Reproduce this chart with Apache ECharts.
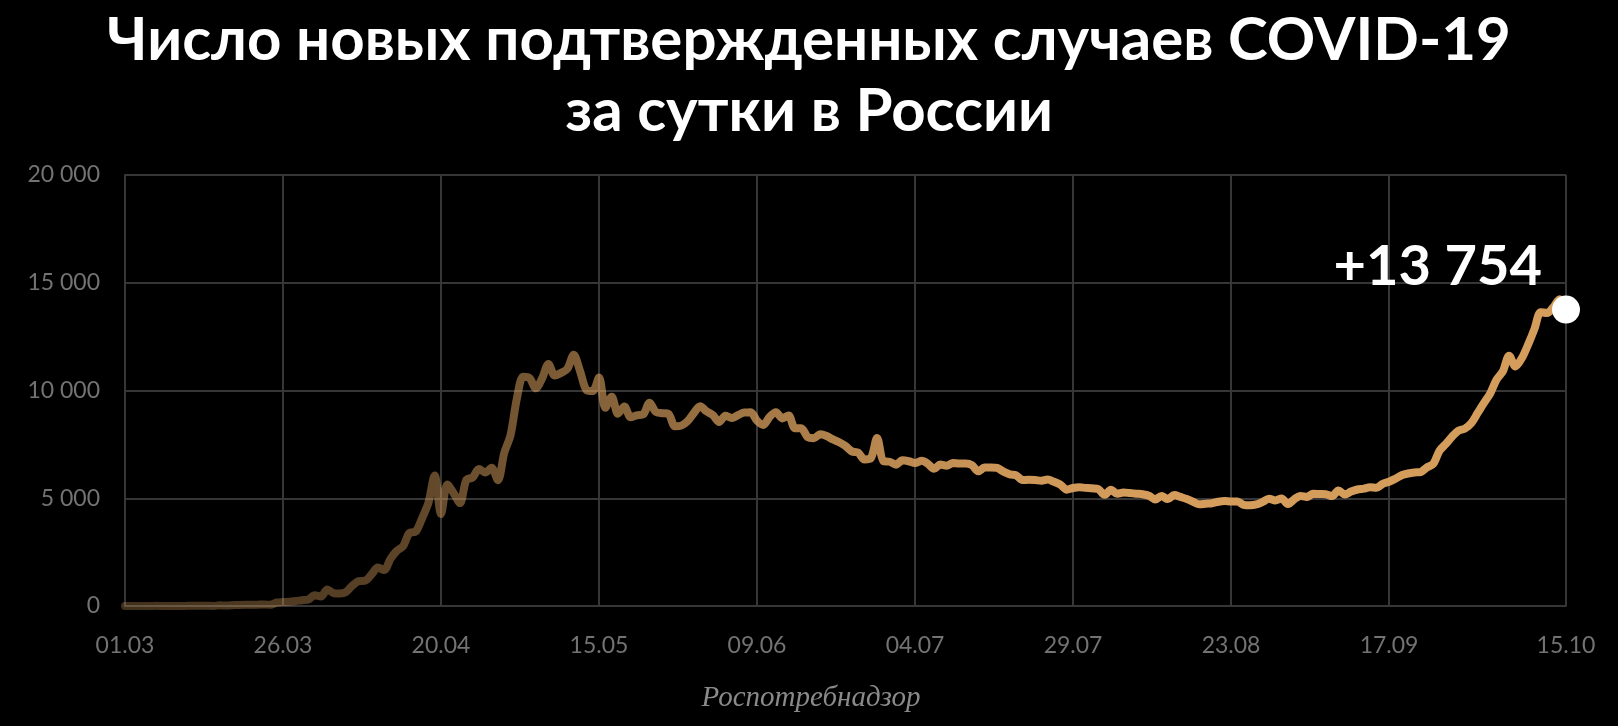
<!DOCTYPE html>
<html>
<head>
<meta charset="utf-8">
<script src="https://cdn.jsdelivr.net/npm/echarts@6/dist/echarts.min.js"></script>
<style>
html,body{margin:0;padding:0;background:#000;}
#c{width:1618px;height:726px;}
</style>
</head>
<body>
<div id="c"></div>
<script>
// ---- data ----
const titleText = 'Число новых подтвержденных случаев COVID-19\nза сутки в России';
const sourceText = 'Роспотребнадзор';
const tickLabels = ['01.03','26.03','20.04','15.05','09.06','04.07','29.07','23.08','17.09','15.10'];
const yMin = 0, yMax = 20000, yStep = 5000;

const casesMar = [0,1,0,0,1,9,0,2,0,3,8,6,14,11,4,30,21,33,52,54,53,61,71,57,163,182,196,228,270,302,501];
const casesApr = [440,771,601,582,658,954,1154,1175,1459,1786,1667,2186,2558,2774,3388,3448,4070,4785,6060,4268,5642,5236,4774,5849,5966,6361,6198,6411,5841,7099];
const casesMay = [7933,9623,10633,10581,10102,10559,11231,10699,10817,11012,11656,10899,10028,9974,10598,9200,9709,8926,9263,8764,8849,8894,9434,9000,8946,8915,8338,8371,8572,8952,9268];
const casesJun = [9035,8863,8536,8831,8726,8855,8984,8985,8595,8404,8779,8987,8706,8835,8246,8248,7843,7790,7972,7889,7728,7600,7425,7176,7113,6800,6852,7800,6719,6693];
const casesJul = [6556,6760,6718,6632,6736,6611,6368,6562,6509,6635,6611,6615,6537,6248,6422,6428,6406,6234,6109,6065,5842,5862,5848,5811,5871,5765,5635,5395,5475,5509,5482];
const casesAug = [5462,5427,5159,5394,5204,5267,5241,5212,5189,5118,4945,5102,4960,5150,5061,4969,4839,4718,4748,4767,4838,4870,4852,4852,4696,4676,4711,4829,4980,4897,4993];
const casesSep = [4729,4952,5110,5063,5205,5195,5185,5099,5363,5172,5310,5406,5449,5509,5488,5670,5762,5905,6065,6148,6196,6215,6431,6595,7212,7523,7867,8135,8232,8481];
const casesOct = [8945,9412,9859,10499,10888,11615,11115,11493,12126,12846,13634,13592,13868,14231,13754];

// ---- build ----
const cases = [].concat(casesMar, casesApr, casesMay, casesJun, casesJul, casesAug, casesSep, casesOct);
const pad = n => (n < 10 ? '0' : '') + n;
const dates = cases.map((_, i) => {
  const d = new Date(Date.UTC(2020, 2, 1) + i * 86400000);
  return pad(d.getUTCDate()) + '.' + pad(d.getUTCMonth() + 1);
});
const fmt = v => String(v).replace(/\B(?=(\d{3})+(?!\d))/g, ' ');
const isTick = (i, v) => tickLabels.indexOf(v) >= 0;
const lastIdx = cases.length - 1;
const gridColor = '#363636';
const labelColor = '#737373';
const base = 'rgba(213,157,92,';

const chart = echarts.init(document.getElementById('c'));
chart.setOption({
  backgroundColor: '#000',
  animation: false,
  title: {
    text: titleText,
    left: 'center',
    top: 0,
    textStyle: {
      color: '#fff', fontSize: 60, fontWeight: 'bold', fontFamily: 'Lato', lineHeight: 71
    }
  },
  grid: { left: 125, right: 52, top: 175, bottom: 120, containLabel: false },
  xAxis: {
    type: 'category',
    data: dates,
    boundaryGap: false,
    axisLine: { show: true, lineStyle: { color: gridColor, width: 2 } },
    axisTick: { show: false },
    axisLabel: {
      interval: isTick, color: labelColor, fontSize: 23, fontFamily: 'Lato', margin: 28
    },
    splitLine: { show: true, interval: isTick, lineStyle: { color: gridColor, width: 2 } }
  },
  yAxis: {
    type: 'value',
    min: yMin, max: yMax, interval: yStep,
    axisLine: { show: true, lineStyle: { color: gridColor, width: 2 } },
    axisTick: { show: false },
    axisLabel: {
      color: labelColor, fontSize: 23, fontFamily: 'Lato', margin: 25,
      formatter: v => fmt(v)
    },
    splitLine: { show: true, lineStyle: { color: gridColor, width: 2 } }
  },
  graphic: [{
    type: 'text',
    x: 811, y: 698,
    style: {
      text: sourceText,
      font: 'italic 29px "Liberation Serif"',
      fill: '#8a8a8a',
      textAlign: 'center',
      textVerticalAlign: 'middle'
    }
  }],
  series: [{
    type: 'line',
    data: cases,
    smooth: 0.3,
    showSymbol: false,
    lineStyle: {
      width: 8,
      cap: 'round', join: 'round',
      color: {
        type: 'linear', x: 0, y: 0, x2: 1, y2: 0,
        colorStops: [
          { offset: 0, color: base + '0.3)' },
          { offset: 0.18, color: base + '0.42)' },
          { offset: 0.3, color: base + '0.58)' },
          { offset: 0.45, color: base + '0.78)' },
          { offset: 0.6, color: base + '0.95)' },
          { offset: 0.7, color: base + '1)' },
          { offset: 1, color: base + '1)' }
        ]
      }
    },
    z: 3
  }, {
    type: 'scatter',
    data: [[dates[lastIdx], cases[lastIdx]]],
    symbol: 'circle',
    symbolSize: 28,
    itemStyle: { color: '#fff', opacity: 1 },
    z: 5,
    label: {
      show: true,
      position: [-10, -29],
      align: 'right',
      verticalAlign: 'middle',
      formatter: p => '+' + fmt(p.value[1]),
      color: '#fff', fontSize: 56, fontWeight: 'bold', fontFamily: 'Lato'
    }
  }]
});
</script>
</body>
</html>
